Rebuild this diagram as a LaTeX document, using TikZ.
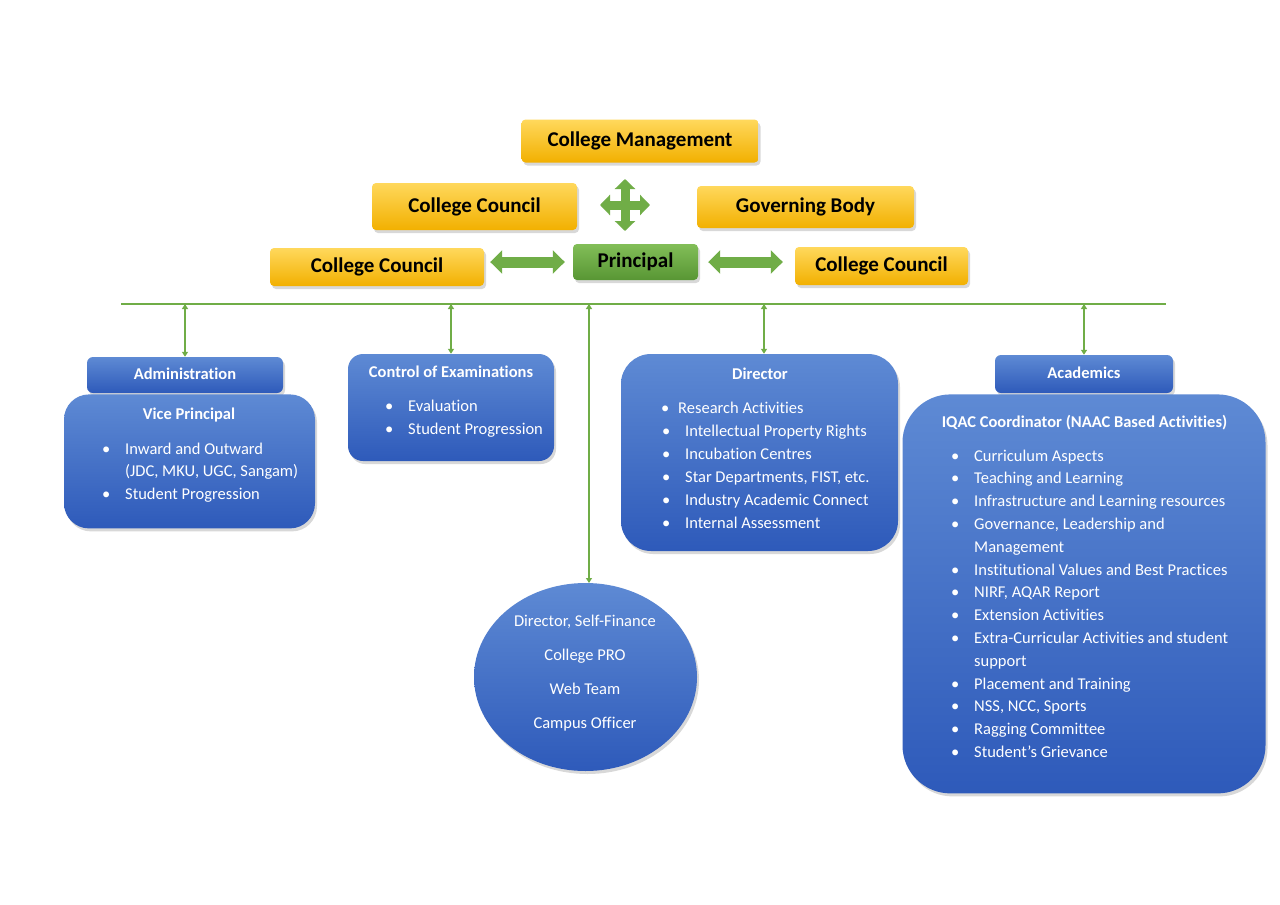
\documentclass[tikz,border=0pt]{standalone}
\usepackage{fontspec}
\setmainfont{Carlito}[Ligatures=NoCommon]
\usetikzlibrary{positioning,shadows,arrows.meta,shapes.geometric}
\definecolor{goldtop}{RGB}{255,216,92}
\definecolor{goldbot}{RGB}{242,176,0}
\definecolor{bluetop}{RGB}{94,138,212}
\definecolor{bluebot}{RGB}{46,90,186}
\definecolor{leafgreen}{RGB}{112,173,71}
\definecolor{greentop}{RGB}{130,190,88}
\definecolor{greenbot}{RGB}{88,150,52}
\newcommand{\bl}[1]{\makebox[23pt][l]{\textbullet}#1}
\newcommand{\nb}[1]{\hspace*{23pt}#1}

\begin{document}
\begin{tikzpicture}[x=1pt,y=-1pt,
    every node/.style={inner sep=0pt},
    shade/.style={drop shadow={shadow xshift=2pt,shadow yshift=-3pt,opacity=0.3}},
    goldbox/.style={shade,rounded corners=4pt,top color=goldtop,bottom color=goldbot,font=\fontsize{21}{24}\selectfont\bfseries},
    greenbox/.style={shade,rounded corners=4pt,top color=greentop,bottom color=greenbot,font=\fontsize{21}{24}\selectfont\bfseries},
    bluebox/.style={shade,top color=bluetop,bottom color=bluebot},
    title/.style={text=white,font=\fontsize{16.5}{20}\selectfont\bfseries,anchor=base},
    listtext/.style={text=white,font=\fontsize{16.5}{20}\selectfont,anchor=base west},
    thinarrow/.style={draw=leafgreen,line width=1.3pt,{Triangle[width=6pt,length=5pt]}-{Triangle[width=6pt,length=5pt]}},
    blockarrow/.style={draw=leafgreen,line width=11pt,{Triangle[width=23pt,length=12pt]}-{Triangle[width=23pt,length=12pt]}},
    crossarrow/.style={draw=leafgreen,line width=9pt,{Triangle[width=20pt,length=10pt]}-{Triangle[width=20pt,length=10pt]}}]
\useasboundingbox[fill=white] (0,0) rectangle (1280,905);

% top of the chart
\node[goldbox,minimum width=237,minimum height=43] (cm)   at (640,141)   {College Management};
\node[goldbox,minimum width=205,minimum height=47] (ccU)  at (474.5,206.5) {College Council};
\node[goldbox,minimum width=217,minimum height=42] (gb)   at (805.5,207) {Governing Body};
\node[greenbox,minimum width=125,minimum height=36] (prin) at (635.5,262) {Principal};
\node[goldbox,minimum width=214,minimum height=38] (ccL)  at (377,267)   {College Council};
\node[goldbox,minimum width=173,minimum height=38] (ccR)  at (881.5,266) {College Council};
\coordinate (cross) at (625,205);
\draw[crossarrow] ([xshift=-25pt]cross) -- ([xshift=25pt]cross);
\draw[crossarrow] ([yshift=26pt]cross) -- ([yshift=-26pt]cross);
\draw[blockarrow] (ccL.east |- prin.west) ++(6,0) -- ([xshift=-8pt]prin.west);
\draw[blockarrow] ([xshift=10pt]prin.east) -- ([xshift=-12pt]prin.east -| ccR.west);

% bar
\coordinate (barL) at (121,304);
\coordinate (barR) at (1166,304);
\draw[leafgreen,line width=2pt] (barL) -- (barR);

% blue boxes
\node[bluebox,rounded corners=6pt,minimum width=196,minimum height=36] (adm) at (185,375) {};
\node[bluebox,rounded corners=25pt,minimum width=251,minimum height=134] (vp) [below=1pt of adm,xshift=4.5pt] {};
\node[bluebox,rounded corners=15pt,minimum width=206,minimum height=107] (coe) at (451,407.5) {};
\node[bluebox,rounded corners=30pt,minimum width=277,minimum height=197] (dir) at (759.5,452.5) {};
\node[bluebox,rounded corners=6pt,minimum width=178,minimum height=38] (aca) at (1084,374) {};
\node[bluebox,rounded corners=48pt,minimum width=363,minimum height=399] (iqac) [below=1pt of aca] {};
\node[bluebox,ellipse,minimum width=223,minimum height=188] (ell) at (585.5,677) {};

\draw[thinarrow] (barL -| adm.north) -- (adm.north);
\draw[thinarrow] (barL -| coe.north) -- (coe.north);
\draw[thinarrow] (barL -| 589,0) -- (589,583);
\draw[thinarrow] (barL -| 764,0) -- (dir.north -| 764,0);
\draw[thinarrow] (barL -| aca.north) -- (aca.north);

% texts
\node[title] (admT) at (185,379) {Administration};
\node[title] (vpT) at (189,419) {Vice Principal};
\foreach \txt [count=\i from 0] in {\bl{Inward and Outward},\nb{(JDC, MKU, UGC, Sangam)},\bl{Student Progression}}
  \node[listtext] (vp\i) at (102,454+22.5*\i) {\txt};

\node[title] (coeT) at (451,377) {Control of Examinations};
\foreach \txt [count=\i from 0] in {\bl{Evaluation},\bl{Student Progression}}
  \node[listtext] (coe\i) at (385,411+23*\i) {\txt};

\node[title] (dirT) at (760,379) {Director};
\node[listtext] (dir0) at (661,413) {\makebox[17pt][l]{\textbullet}Research Activities};
\foreach \txt [count=\i from 1] in {\bl{Intellectual Property Rights},\bl{Incubation Centres},\bl{Star Departments, FIST, etc.},\bl{Industry Academic Connect},\bl{Internal Assessment}}
  \node[listtext] (dir\i) at (662,413+23*\i) {\txt};

\node[title] (acaT) at (1084,378) {Academics};
\node[title] (iqacT) at (1084.5,427) {IQAC Coordinator (NAAC Based Activities)};
\foreach \txt [count=\i from 0] in {\bl{Curriculum Aspects},\bl{Teaching and Learning},\bl{Infrastructure and Learning resources},\bl{Governance, Leadership and},\nb{Management},\bl{Institutional Values and Best Practices},\bl{NIRF, AQAR Report},\bl{Extension Activities},\bl{Extra-Curricular Activities and student},\nb{support},\bl{Placement and Training},\bl{NSS, NCC, Sports},\bl{Ragging Committee},\bl{Student’s Grievance}}
  \node[listtext] (iq\i) at (951,461+22.8*\i) {\txt};

\foreach \txt [count=\i from 0] in {{Director, Self-Finance},College PRO,Web Team,Campus Officer}
  \node[text=white,font=\fontsize{16.5}{20}\selectfont,anchor=base] (ell\i) at (585,626+34*\i) {\txt};
\end{tikzpicture}
\end{document}
